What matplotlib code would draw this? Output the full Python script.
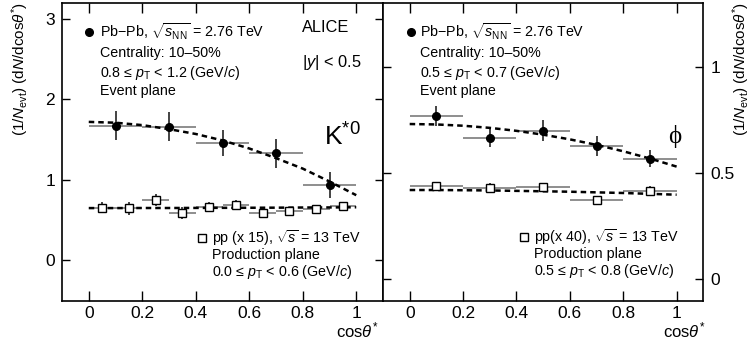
import matplotlib
matplotlib.use('Agg')
import matplotlib.pyplot as plt

plt.rcParams['font.family'] = ['Liberation Sans', 'DejaVu Sans']
plt.rcParams['mathtext.fontset'] = 'custom'
plt.rcParams['mathtext.rm'] = 'Liberation Sans'
plt.rcParams['mathtext.it'] = 'Liberation Sans:italic'
plt.rcParams['mathtext.bf'] = 'Liberation Sans:bold'

# K*0, Pb-Pb 10-50%, event plane, 0.8 <= pT < 1.2 GeV/c
kst_pb_x = [0.1, 0.3, 0.5, 0.7, 0.9]
kst_pb_xerr = [0.1, 0.1, 0.1, 0.1, 0.1]
kst_pb_y = [1.675, 1.66, 1.46, 1.33, 0.94]
kst_pb_yerr = [0.18, 0.18, 0.16, 0.18, 0.16]

# K*0, pp 13 TeV (x15), production plane, 0.0 <= pT < 0.6 GeV/c
kst_pp_x = [0.05, 0.15, 0.25, 0.35, 0.45, 0.55, 0.65, 0.75, 0.85, 0.95]
kst_pp_xerr = [0.05] * 10
kst_pp_y = [0.654, 0.646, 0.75, 0.59, 0.66, 0.69, 0.59, 0.61, 0.64, 0.67]
kst_pp_yerr = [0.07, 0.08, 0.08, 0.07, 0.06, 0.06, 0.05, 0.04, 0.04, 0.04]

# phi, Pb-Pb 10-50%, event plane, 0.5 <= pT < 0.7 GeV/c
phi_pb_x = [0.1, 0.3, 0.5, 0.7, 0.9]
phi_pb_xerr = [0.1, 0.1, 0.1, 0.1, 0.1]
phi_pb_y = [0.766, 0.664, 0.698, 0.629, 0.568]
phi_pb_yerr = [0.047, 0.043, 0.05, 0.047, 0.042]

# phi, pp 13 TeV (x40), production plane, 0.5 <= pT < 0.8 GeV/c
phi_pp_x = [0.1, 0.3, 0.5, 0.7, 0.9]
phi_pp_xerr = [0.1, 0.1, 0.1, 0.1, 0.1]
phi_pp_y = [0.44, 0.431, 0.432, 0.373, 0.417]
phi_pp_yerr = [0.02, 0.02, 0.02, 0.02, 0.02]

# fit curves
fit_x = [0.0, 0.1, 0.2, 0.3, 0.4, 0.5, 0.6, 0.7, 0.8, 0.9, 1.0]
kst_pb_fit = [1.72, 1.71, 1.68, 1.63, 1.57, 1.49, 1.39, 1.27, 1.14, 0.98, 0.81]
kst_pp_fit = [0.650, 0.650, 0.651, 0.651, 0.652, 0.653, 0.654, 0.655, 0.657, 0.658, 0.660]
phi_pb_fit = [0.730, 0.728, 0.722, 0.712, 0.698, 0.680, 0.658, 0.632, 0.602, 0.568, 0.530]
phi_pp_fit = [0.420, 0.420, 0.419, 0.418, 0.416, 0.414, 0.412, 0.409, 0.406, 0.402, 0.398]

x_ticks = [0, 0.2, 0.4, 0.6, 0.8, 1]
x_ticklabels = ['0', '0.2', '0.4', '0.6', '0.8', '1']

W, H = 751, 343
fig = plt.figure(figsize=(W / 100, H / 100), dpi=100)
ax1 = fig.add_axes([62 / W, 1 - 300.7 / H, 321 / W, 298 / H])
ax2 = fig.add_axes([383 / W, 1 - 300.7 / H, 320.3 / W, 298 / H])

ylabel = r'$(1/N_{\rm evt})\ ({\rm d}N/{\rm dcos}\theta^{*})$'
tick_fs = 12.5
txt_fs = 10.3


def draw_set(ax, x, xerr, y, yerr, fit, marker, mfc):
    ax.errorbar(x, y, xerr=xerr, fmt='none', ecolor='#707070', elinewidth=1.1, capsize=0, zorder=2)
    ax.errorbar(x, y, yerr=yerr, fmt='none', ecolor='#111111', elinewidth=1.1, capsize=0, zorder=2)
    ax.plot(fit_x, fit, ls=(0, (2.2, 1.6)), color='black', lw=1.8, zorder=3)
    ax.plot(x, y, ls='none', marker=marker, ms=5.5 if marker == 'o' else 5.2,
            mfc=mfc, mec='black', mew=1.0, zorder=4)


def style_axes(ax, ylim, yticks, right_labels):
    ax.set_xlim(-0.1, 1.1)
    ax.set_ylim(*ylim)
    ax.set_xticks(x_ticks)
    ax.set_xticklabels(x_ticklabels)
    ax.set_yticks(yticks)
    ax.tick_params(axis='x', which='major', direction='in', length=7.5, width=1.0,
                   top=True, bottom=True, labelsize=tick_fs, pad=4)
    ax.tick_params(axis='y', which='major', direction='in', length=6, width=1.0,
                   left=True, right=True, labelsize=tick_fs, pad=5,
                   labelleft=not right_labels, labelright=right_labels)
    for s in ax.spines.values():
        s.set_linewidth(1.2)


# left panel: K*0
draw_set(ax1, kst_pp_x, kst_pp_xerr, kst_pp_y, kst_pp_yerr, kst_pp_fit, 's', 'white')
draw_set(ax1, kst_pb_x, kst_pb_xerr, kst_pb_y, kst_pb_yerr, kst_pb_fit, 'o', 'black')
style_axes(ax1, (-0.5, 3.2), [0, 1, 2, 3], False)
ax1.set_yticklabels(['0', '1', '2', '3'])

# right panel: phi
draw_set(ax2, phi_pp_x, phi_pp_xerr, phi_pp_y, phi_pp_yerr, phi_pp_fit, 's', 'white')
draw_set(ax2, phi_pb_x, phi_pb_xerr, phi_pb_y, phi_pb_yerr, phi_pb_fit, 'o', 'black')
style_axes(ax2, (-0.1, 1.3), [0, 0.5, 1], True)
ax2.set_yticklabels(['0', '0.5', '1'])


def fy(py):
    return (300.7 - py) / 298


# annotation blocks
def pb_block(ax, xm, xt, ptline):
    ax.plot([xm], [fy(31.7)], marker='o', ms=5.5, color='black',
            transform=ax.transAxes, clip_on=False)
    lines = [r'Pb$-$Pb, $\sqrt{s_{\rm NN}}$ = 2.76 TeV',
             'Centrality: 10\u201350%',
             ptline,
             'Event plane']
    for yy, s in zip([31.7, 52.5, 72.5, 91.0], lines):
        ax.text(xt, fy(yy), s, transform=ax.transAxes, fontsize=txt_fs,
                ha='left', va='center')


def pp_block(ax, xm, xt, ys, first, ptline):
    ax.plot([xm], [fy(ys[0])], marker='s', ms=5.2, mfc='white', mec='black',
            mew=1.0, transform=ax.transAxes, clip_on=False)
    for yy, s in zip(ys, [first, 'Production plane', ptline]):
        ax.text(xt, fy(yy), s, transform=ax.transAxes, fontsize=txt_fs,
                ha='left', va='center')


pb_block(ax1, (89 - 62) / 321, (100 - 62) / 321,
         '0.8 \u2264 $p_{\\rm T}$ < 1.2 (GeV/$c$)')
pp_block(ax1, (201.7 - 62) / 321, (212.5 - 62) / 321, [238, 255, 271.7],
         r'pp (x 15), $\sqrt{s}$ = 13 TeV',
         '0.0 \u2264 $p_{\\rm T}$ < 0.6 (GeV/$c$)')
ax1.text((302 - 62) / 321, fy(27), 'ALICE', transform=ax1.transAxes,
         fontsize=11.8, ha='left', va='center')
ax1.text((302 - 62) / 321, fy(63), r'|$y$| < 0.5', transform=ax1.transAxes,
         fontsize=11.8, ha='left', va='center')
ax1.text((324 - 62) / 321, fy(137), r'K$^{*0}$', transform=ax1.transAxes,
         fontsize=19, ha='left', va='center')

pb_block(ax2, (410.7 - 383) / 320.3, (420 - 383) / 320.3,
         '0.5 \u2264 $p_{\\rm T}$ < 0.7 (GeV/$c$)')
pp_block(ax2, (524 - 383) / 320.3, (534 - 383) / 320.3, [237, 254, 271],
         r'pp(x 40), $\sqrt{s}$ = 13 TeV',
         '0.5 \u2264 $p_{\\rm T}$ < 0.8 (GeV/$c$)')
ax2.text((675 - 383) / 320.3, fy(137), '\u03d5', transform=ax2.transAxes,
         fontsize=18, ha='center', va='center', family=['Liberation Serif', 'DejaVu Serif'])

# axis titles
fig.text(20 / W, 1 - 2 / H, ylabel, rotation=90, ha='center', va='top', fontsize=11)
fig.text(741 / W, 1 - 2 / H, ylabel, rotation=90, ha='center', va='top', fontsize=11)
fig.text(378 / W, 1 - 330 / H, r'cos$\theta^{*}$', ha='right', va='center', fontsize=12)
fig.text(705 / W, 1 - 330 / H, r'cos$\theta^{*}$', ha='right', va='center', fontsize=12)

fig.savefig('out.png', dpi=100)
